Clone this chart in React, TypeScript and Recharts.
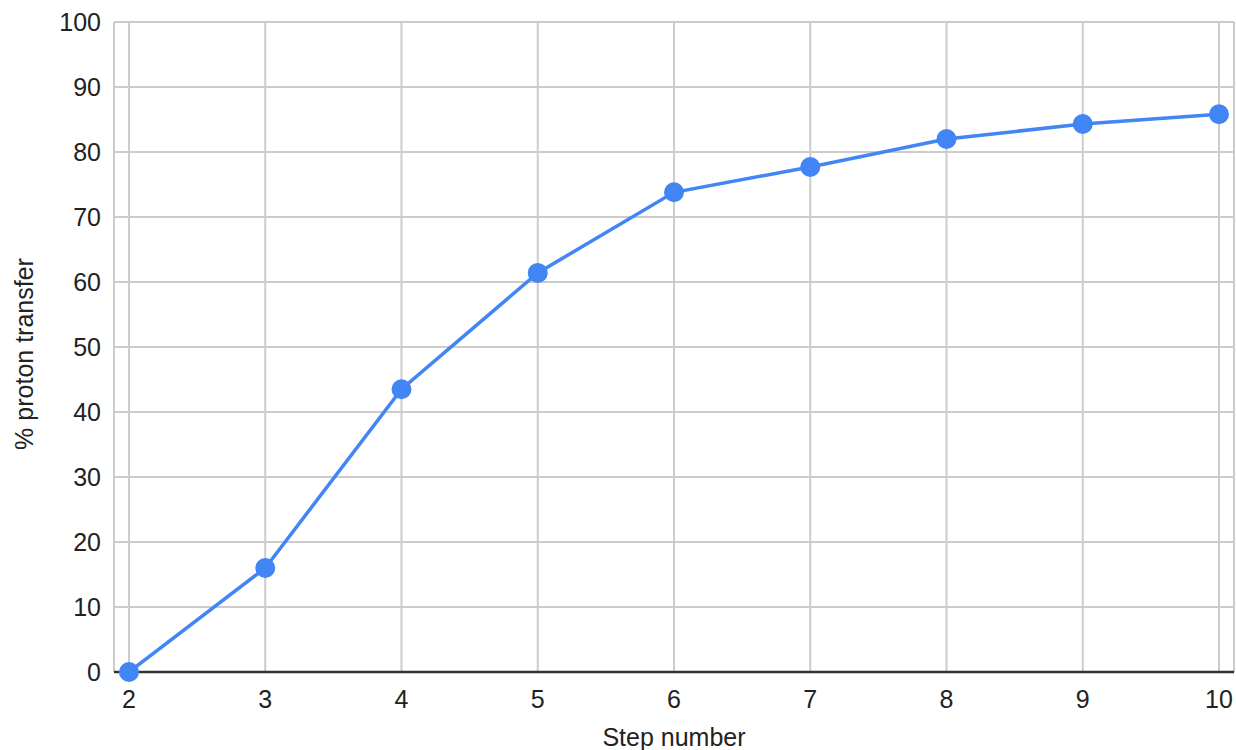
import React from "react";
import { LineChart, Line, XAxis, YAxis, CartesianGrid, Label } from "recharts";

const steps = [2, 3, 4, 5, 6, 7, 8, 9, 10];
const protonTransfer = [0, 16.0, 43.5, 61.4, 73.8, 77.7, 82.0, 84.3, 85.8];
const yTicks = [0, 10, 20, 30, 40, 50, 60, 70, 80, 90, 100];
const xTitle = "Step number";
const yTitle = "% proton transfer";

const data = steps.map((s, i) => ({ step: s, value: protonTransfer[i] }));

const FONT = '"Liberation Sans", Arial, Helvetica, sans-serif';
const TEXT = "#222222";

const YTitle = (props: any) => {
  const vb = props.viewBox || {};
  const cx = 33;
  const cy = (vb.y ?? 0) + (vb.height ?? 0) / 2 + 7;
  return (
    <text
      x={cx}
      y={cy}
      transform={`rotate(-90, ${cx}, ${cy})`}
      textAnchor="middle"
      fontSize={25}
      fontFamily={FONT}
      fill={TEXT}
    >
      {yTitle}
    </text>
  );
};

export default function App() {
  return (
    <div style={{ position: "absolute", left: 0, top: 0, width: 1236, height: 750, background: "#fff" }}>
      <LineChart
        width={1236}
        height={750}
        data={data}
        margin={{ top: 22, right: 2, bottom: 0, left: 0 }}
      >
        <CartesianGrid stroke="#cccccc" strokeWidth={2} vertical={true} horizontal={true} />
        <XAxis
          dataKey="step"
          type="number"
          domain={[2, 10]}
          ticks={steps}
          interval={0}
          allowDataOverflow
          padding={{ left: 15, right: 15 }}
          height={78}
          tickSize={0}
          tickMargin={18}
          axisLine={{ stroke: "#333333", strokeWidth: 2.5 }}
          tick={{ fontSize: 25, fontFamily: FONT, fill: TEXT }}
        >
          <Label
            value={xTitle}
            position="insideBottom"
            offset={4}
            style={{ fontSize: 25, fontFamily: FONT, fill: TEXT }}
          />
        </XAxis>
        <YAxis
          type="number"
          domain={[0, 100]}
          ticks={yTicks}
          interval={0}
          width={114}
          allowDataOverflow
          tickSize={0}
          tickMargin={13}
          axisLine={false}
          tickLine={false}
          tick={{ fontSize: 25, fontFamily: FONT, fill: TEXT }}
        >
          <Label content={<YTitle />} />
        </YAxis>
        <Line
          type="linear"
          dataKey="value"
          stroke="#4285F4"
          strokeWidth={3.5}
          dot={{ r: 9, fill: "#4285F4", stroke: "#4285F4", strokeWidth: 2, clipDot: false }}
          activeDot={false}
          isAnimationActive={false}
        />
      </LineChart>
    </div>
  );
}
